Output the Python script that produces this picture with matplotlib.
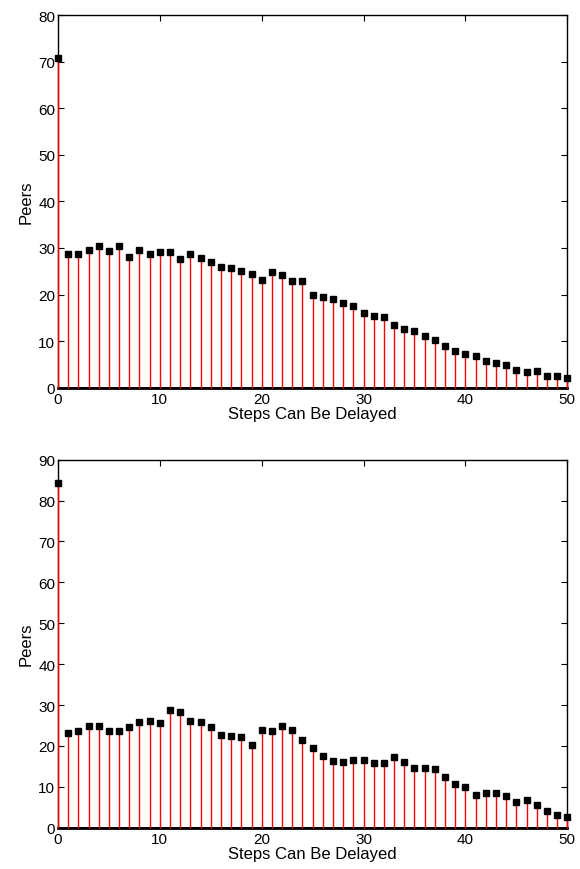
import matplotlib.pyplot as plt
import numpy as np

plt.rcParams["font.family"] = ["Liberation Sans", "DejaVu Sans"]

steps = np.arange(0, 51)

peers_top = [70.8, 28.8, 28.8, 29.6, 30.5, 29.4, 30.5, 28.0, 29.6, 28.6,
             29.1, 29.1, 27.7, 28.7, 27.8, 27.0, 26.0, 25.7, 25.0, 24.5,
             23.1, 24.9, 24.2, 22.9, 22.9, 19.9, 19.5, 19.0, 18.2, 17.5,
             16.0, 15.4, 15.2, 13.5, 12.6, 12.1, 11.0, 10.3, 9.0, 7.8,
             7.2, 6.9, 5.7, 5.2, 4.9, 3.9, 3.4, 3.6, 2.5, 2.5, 2.0]

peers_bottom = [84.2, 23.2, 23.7, 24.9, 24.9, 23.7, 23.6, 24.5, 25.8, 26.2,
                25.5, 28.8, 28.3, 26.2, 25.8, 24.6, 22.7, 22.5, 22.2, 20.3,
                24.0, 23.7, 24.9, 23.8, 21.4, 19.5, 17.5, 16.4, 16.1, 16.5,
                16.5, 15.8, 15.8, 17.2, 16.0, 14.6, 14.6, 14.3, 12.5, 10.7,
                9.9, 8.1, 8.4, 8.4, 7.7, 6.4, 6.7, 5.6, 4.2, 3.0, 2.5]

fig = plt.figure(figsize=(5.8, 8.7), dpi=100)
ax1 = fig.add_axes([0.1, 0.5532, 0.878, 0.4284])
ax2 = fig.add_axes([0.1, 0.0475, 0.878, 0.4230])


def stem_panel(ax, y, ymax):
    markers, stems, base = ax.stem(steps, y, basefmt="k-")
    stems.set_color("red")
    stems.set_linewidth(1.0)
    stems.set_zorder(3)
    stems.set_clip_on(False)
    markers.set_marker("s")
    markers.set_markersize(5)
    markers.set_markerfacecolor("black")
    markers.set_markeredgecolor("black")
    markers.set_zorder(4)
    markers.set_clip_on(False)
    base.set_linewidth(2)
    base.set_zorder(2.8)
    ax.set_xlim(0, 50)
    ax.set_ylim(0, ymax)
    ax.set_xticks(np.arange(0, 51, 10))
    ax.set_yticks(np.arange(0, ymax + 1, 10))
    ax.tick_params(direction="in", top=True, right=True, length=4,
                   labelsize=11, colors="black", pad=3)
    ax.tick_params(axis="y", pad=2)
    for side in ["top", "right", "left"]:
        ax.spines[side].set_linewidth(1.0)
    ax.spines["bottom"].set_linewidth(2)
    ax.set_xlabel("Steps Can Be Delayed", fontsize=12, labelpad=0)
    ax.set_ylabel("Peers", fontsize=12, labelpad=3)


stem_panel(ax1, peers_top, 80)
stem_panel(ax2, peers_bottom, 90)

fig.savefig("out.png", dpi=100)
